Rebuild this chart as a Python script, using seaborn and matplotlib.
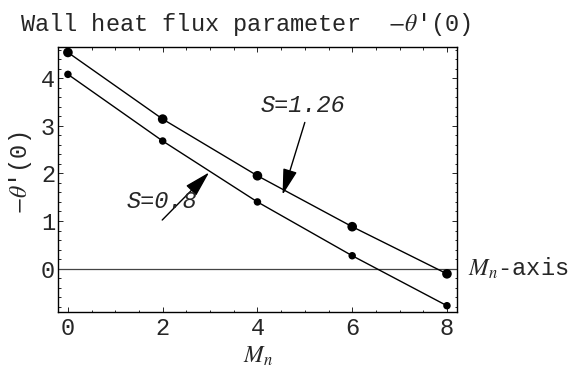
import matplotlib
matplotlib.use("Agg")
import matplotlib.pyplot as plt
from matplotlib.ticker import MultipleLocator
import pandas as pd
import seaborn as sns

# Data: wall heat flux parameter -theta'(0) versus M_n for two values of S
mn_values = [0, 2, 4, 6, 8]
flux_s126 = [4.54, 3.14, 1.95, 0.88, -0.11]
flux_s08 = [4.08, 2.68, 1.40, 0.27, -0.78]
series_labels = ["S=1.26", "S=0.8"]

df = pd.DataFrame({
    "Mn": mn_values * 2,
    "flux": flux_s126 + flux_s08,
    "S": [series_labels[0]] * len(mn_values) + [series_labels[1]] * len(mn_values),
})

sns.set_style("ticks")
plt.rcParams["font.family"] = ["Liberation Mono", "DejaVu Sans"]
plt.rcParams["mathtext.fontset"] = "stix"

FS = 17

fig = plt.figure(figsize=(5.74, 3.71), dpi=100)
ax = fig.add_axes([0.101, 0.158, 0.695, 0.716])

# reference line for the M_n axis
ax.axhline(0, color="#444444", lw=0.9, zorder=1)

sns.lineplot(data=df, x="Mn", y="flux", units="S", estimator=None,
             color="black", lw=1.0, ax=ax, legend=False, zorder=2)
sns.scatterplot(data=df, x="Mn", y="flux", hue="S", size="S",
                sizes={series_labels[0]: 48, series_labels[1]: 29},
                palette={series_labels[0]: "black", series_labels[1]: "black"},
                edgecolor="black", linewidth=0, ax=ax, legend=False, zorder=3,
                clip_on=False)

ax.set_xlim(-0.21, 8.21)
ax.set_ylim(-0.92, 4.66)
ax.xaxis.set_major_locator(MultipleLocator(2))
ax.xaxis.set_minor_locator(MultipleLocator(0.5))
ax.yaxis.set_major_locator(MultipleLocator(1))
ax.yaxis.set_minor_locator(MultipleLocator(0.2))
ax.tick_params(which="both", direction="in", top=True, right=True,
               width=0.7, labelsize=FS)
ax.tick_params(axis="x", pad=3)
ax.tick_params(axis="y", pad=2)
ax.tick_params(which="major", length=3.5)
ax.tick_params(which="minor", length=1.8)
for sp in ax.spines.values():
    sp.set_linewidth(1.0)
    sp.set_color("black")

ax.set_xlabel("")
ax.set_ylabel("")
fig.text(257.5 / 574, 1 - 356 / 371, "$M_n$", fontsize=17,
         ha="center", va="center")
fig.text(20 / 574, 1 - 173 / 371, "$-\\theta$'(0)", fontsize=FS,
         rotation=90, ha="center", va="center")

# annotations with arrows pointing to each curve
arrow = dict(arrowstyle="-|>,head_length=0.8,head_width=0.22", color="black",
             lw=1.0, mutation_scale=20, shrinkA=0, shrinkB=0)
ax.annotate("", xy=(4.53, 1.55), xytext=(5.0, 3.07), arrowprops=arrow)
ax.text(4.96, 3.42, series_labels[0], fontsize=FS, style="italic",
        ha="center", va="center")
ax.annotate("", xy=(2.98, 2.02), xytext=(1.99, 1.02), arrowprops=arrow)
ax.text(1.99, 1.41, series_labels[1], fontsize=FS, style="italic",
        ha="center", va="center")

ax.text(8.44, 0, "$M_n$-axis", fontsize=FS, ha="left", va="center",
        clip_on=False)

fig.text(20 / 574, 1 - 31.5 / 371, "Wall heat flux parameter  $-\\theta$'(0)",
         fontsize=17, ha="left", va="baseline")

fig.savefig("out.png", dpi=100)
